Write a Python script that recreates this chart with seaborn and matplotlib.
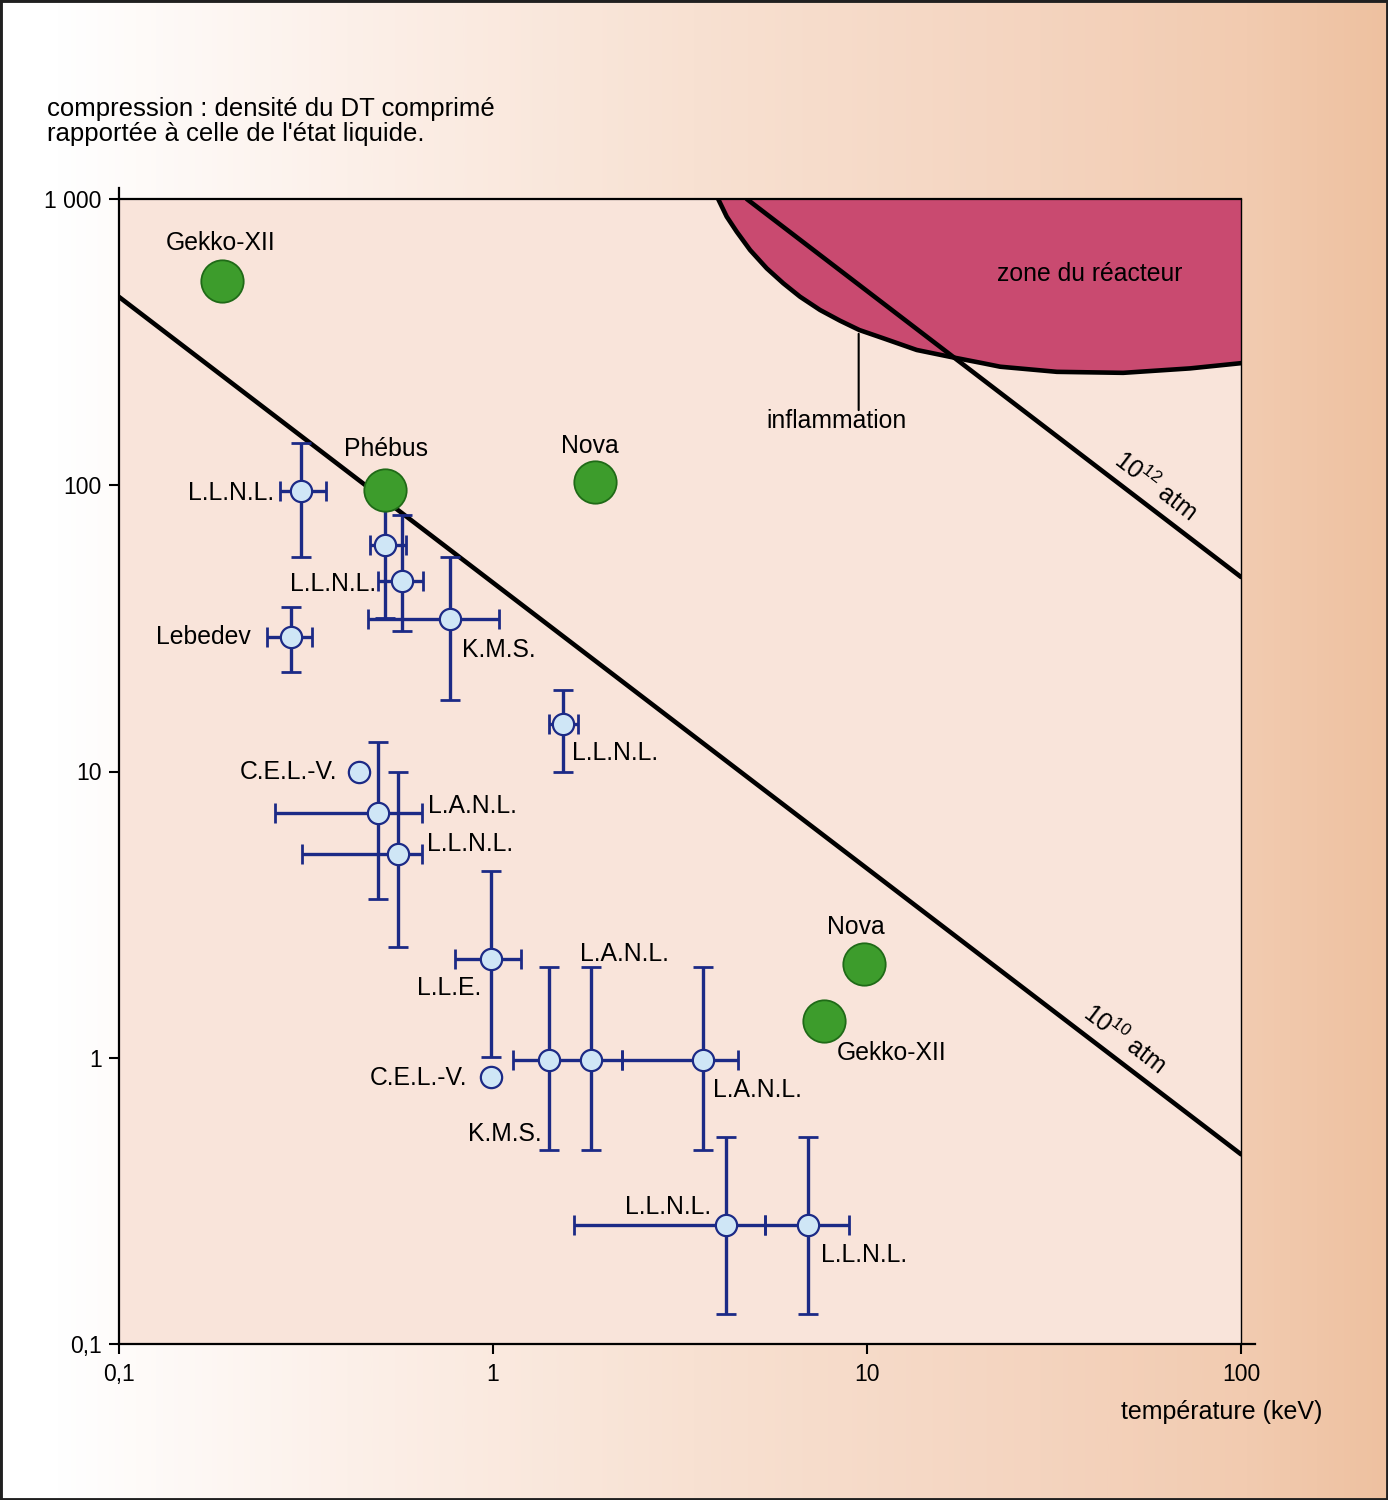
import numpy as np
import matplotlib
matplotlib.use("Agg")
import matplotlib.pyplot as plt
import matplotlib.patches as mpatches
from matplotlib.colors import LinearSegmentedColormap
import seaborn as sns

# ---------------- data ----------------
big_names = ["Gekko-XII", "Phébus", "Nova", "Nova", "Gekko-XII"]
big_temp = [0.189, 0.514, 1.87, 9.82, 7.66]
big_comp = [517, 96.5, 102.5, 2.13, 1.34]

lab_names = ["L.L.N.L.", "", "L.L.N.L.", "K.M.S.", "Lebedev", "L.L.N.L.",
             "C.E.L.-V.", "L.A.N.L.", "L.L.N.L.", "L.L.E.", "C.E.L.-V.",
             "K.M.S.", "L.A.N.L.", "L.A.N.L.", "L.L.N.L.", "L.L.N.L."]
lab_temp = [0.307, 0.514, 0.570, 0.768, 0.288, 1.54, 0.439, 0.492, 0.556,
            0.988, 0.988, 1.415, 1.824, 3.65, 4.19, 6.95]
lab_comp = [95.5, 61.8, 46.3, 34.1, 29.4, 14.7, 9.94, 7.14, 5.14,
            2.21, 0.855, 0.982, 0.982, 0.982, 0.2605, 0.2605]
nan = float("nan")
lab_temp_lo = [0.270, 0.469, 0.494, 0.464, 0.249, 1.41, nan, 0.261, 0.308,
               0.792, nan, 1.133, nan, 2.21, 1.65, 5.34]
lab_temp_hi = [0.358, 0.585, 0.649, 1.04, 0.328, 1.69, nan, 0.645, 0.645,
               1.19, nan, 2.21, nan, 4.51, 5.34, 8.95]
lab_comp_lo = [56.1, 34.4, 31.0, 17.8, 22.3, 9.96, nan, 3.59, 2.43,
               1.01, nan, 0.476, 0.476, 0.476, 0.127, 0.127]
lab_comp_hi = [140, 90, 78.7, 56.3, 37.7, 19.3, nan, 12.7, 9.94,
               4.49, nan, 2.08, 2.08, 2.08, 0.527, 0.527]

iso10_temp = [0.1, 100]
iso10_comp = [455, 0.46]
iso12_temp = [4.77, 100]
iso12_comp = [1000, 47.8]

ign_temp = [4.00, 4.216, 4.483, 4.87, 5.393, 5.973, 6.622, 7.49, 8.47,
            9.537, 11.06, 13.58, 16.67, 20.46, 22.7, 32.2, 48.4, 73.1, 100]
ign_comp = [1000, 867.7, 768.8, 663, 572.6, 507.6, 455.6, 409.5, 375.7,
            348.6, 326.1, 296.9, 281, 266.7, 259.5, 249, 247, 256, 267]

x_ticks = [0.1, 1, 10, 100]
x_ticklabels = ["0,1", "1", "10", "100"]
y_ticks = [0.1, 1, 10, 100, 1000]
y_ticklabels = ["0,1", "1", "10", "100", "1 000"]

# ---------------- style ----------------
sns.set_theme(style="ticks")
plt.rcParams["font.family"] = ["Liberation Sans", "DejaVu Sans"]
plt.rcParams["mathtext.fontset"] = "custom"
plt.rcParams["mathtext.rm"] = "Liberation Sans"
plt.rcParams["mathtext.default"] = "regular"
plt.rcParams["text.color"] = "black"
plt.rcParams["axes.labelcolor"] = "black"
plt.rcParams["xtick.color"] = "black"
plt.rcParams["ytick.color"] = "black"

GREEN = "#3d9c2c"
GREEN_EDGE = "#1f6a17"
NAVY = "#1c2a86"
LIGHTBLUE = "#cfe6f6"
ZONE = "#c94a70"
PLOTBG = "#f9e4da"

W, H = 1388, 1500
fig = plt.figure(figsize=(W / 100, H / 100), dpi=100)

# background gradient
bg = fig.add_axes([0, 0, 1, 1], zorder=-10)
cmap = LinearSegmentedColormap.from_list(
    "bg", [(0.0, "#ffffff"), (0.04, "#ffffff"), (0.25, "#fcf0e9"),
           (0.5, "#f8e1d2"), (0.75, "#f4d4bf"), (0.9, "#f2cbb0"),
           (1.0, "#eec1a0")])
bg.imshow(np.linspace(0, 1, 512)[None, :], aspect="auto", cmap=cmap,
          extent=[0, 1, 0, 1])
bg.set_axis_off()

ax = fig.add_axes([119 / W, (H - 1344) / H, 1122 / W, 1145 / H], zorder=1)
ax.set_facecolor(PLOTBG)
ax.set_xscale("log")
ax.set_yscale("log")
ax.set_xlim(0.1, 100)
ax.set_ylim(0.1, 1000)

# reactor zone
ax.fill_between(ign_temp, ign_comp, 1000, color=ZONE, lw=0, zorder=1)

# lines
LW = 3.3
sns.lineplot(x=ign_temp, y=ign_comp, sort=False, estimator=None,
             color="black", lw=LW, ax=ax, zorder=2)
sns.lineplot(x=iso10_temp, y=iso10_comp, sort=False, estimator=None,
             color="black", lw=LW, ax=ax, zorder=2)
sns.lineplot(x=iso12_temp, y=iso12_comp, sort=False, estimator=None,
             color="black", lw=LW, ax=ax, zorder=2)

# error bars
for i in range(len(lab_temp)):
    x, y = lab_temp[i], lab_comp[i]
    xe = None if np.isnan(lab_temp_lo[i]) else [[x - lab_temp_lo[i]], [lab_temp_hi[i] - x]]
    ye = None if np.isnan(lab_comp_lo[i]) else [[y - lab_comp_lo[i]], [lab_comp_hi[i] - y]]
    if xe is None and ye is None:
        continue
    ax.errorbar([x], [y], xerr=xe, yerr=ye, fmt="none", ecolor=NAVY,
                elinewidth=2.4, capsize=7.5, capthick=2.0, zorder=3)

sns.scatterplot(x=lab_temp, y=lab_comp, s=235, color=LIGHTBLUE,
                edgecolor=NAVY, linewidth=1.6, ax=ax, zorder=4)
sns.scatterplot(x=big_temp, y=big_comp, s=930, color=GREEN,
                edgecolor=GREEN_EDGE, linewidth=1.3, ax=ax, zorder=5)

# labels (offsets in pixels from the points)
FS = 17.8
big_offsets = [(-2, 38, "center"), (1, 41, "center"), (-5, 36, "center"),
               (-8, 37, "center"), (13, -32, "left")]
for name, x, y, (dx, dy, ha) in zip(big_names, big_temp, big_comp, big_offsets):
    ax.annotate(name, (x, y), xytext=(dx, dy), textcoords="offset pixels",
                ha=ha, va="center", fontsize=FS, color="black", zorder=6)

lab_offsets = [(-27, -2, "right"), (0, 0, "center"), (-26, -3, "right"),
               (12, -31, "left"), (-40, 0, "right"), (9, -29, "left"),
               (-22, 0, "right"), (50, 7, "left"), (29, 10, "left"),
               (-10, -29, "right"), (-24, -1, "right"), (-8, -74, "right"),
               (-11, 106, "left"), (10, -30, "left"), (-15, 18, "right"),
               (13, -30, "left")]
for name, x, y, (dx, dy, ha) in zip(lab_names, lab_temp, lab_comp, lab_offsets):
    if name:
        ax.annotate(name, (x, y), xytext=(dx, dy), textcoords="offset pixels",
                    ha=ha, va="center", fontsize=FS, color="black", zorder=6)

ax.text(39.5, 547, "zone du réacteur", ha="center", va="center",
        fontsize=FS, color="black", zorder=6)
ax.text(8.27, 167.7, "inflammation", ha="center", va="center",
        fontsize=FS, color="black", zorder=6)
ax.annotate("", xy=(9.5, 338), xytext=(9.5, 183),
            arrowprops=dict(arrowstyle="-", color="black", lw=1.5,
                            shrinkA=0, shrinkB=0), zorder=6)
ax.text(58.9, 99.4, r"$10^{12}$ atm", rotation=-37.4, rotation_mode="anchor",
        ha="center", va="center", fontsize=FS, color="black", zorder=6)
ax.text(48.9, 1.16, r"$10^{10}$ atm", rotation=-37.4, rotation_mode="anchor",
        ha="center", va="center", fontsize=FS, color="black", zorder=6)

# axes styling
ax.minorticks_off()
ax.set_xticks(x_ticks)
ax.set_xticklabels(x_ticklabels)
ax.set_yticks(y_ticks)
ax.set_yticklabels(y_ticklabels)
ax.tick_params(axis="both", which="major", direction="out", length=7.5,
               width=1.5, color="black", labelsize=16.5, labelcolor="black")
ax.tick_params(axis="x", pad=6)
ax.tick_params(axis="y", pad=5)
for side in ["left", "bottom", "top"]:
    ax.spines[side].set_visible(True)
    ax.spines[side].set_linewidth(1.6)
    ax.spines[side].set_color("black")
ax.spines["right"].set_visible(True)
ax.spines["right"].set_linewidth(1.0)
ax.spines["right"].set_color("black")
ax.spines["left"].set_bounds(0.1, 1090)
ax.spines["bottom"].set_bounds(0.1, 109)
ax.grid(False)

ax.set_xlabel("température (keV)", fontsize=18, color="black")
ax.xaxis.set_label_coords((1222 - 119) / 1122, (1344 - 1412) / 1145)
ax.xaxis.label.set_va("center")
ax.xaxis.label.set_ha("center")
ax.set_ylabel("")

fig.text(47 / W, 1 - 109 / H, "compression : densité du DT comprimé",
         ha="left", va="center", fontsize=18.5, color="black")
fig.text(47 / W, 1 - 134 / H, "rapportée à celle de l'état liquide.",
         ha="left", va="center", fontsize=18.5, color="black")

fig.patches.append(mpatches.Rectangle((0, 0), 1, 1, transform=fig.transFigure,
                                      fill=False, ec="#202020", lw=3.5,
                                      zorder=20))

fig.savefig("out.png", dpi=100)
